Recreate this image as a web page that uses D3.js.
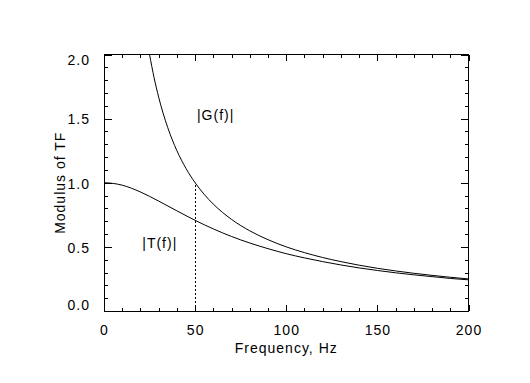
<!DOCTYPE html>
<html>
<head>
<meta charset="utf-8">
<script src="https://cdn.jsdelivr.net/npm/d3@7"></script>
<style>
  html, body { margin: 0; padding: 0; background: #fff; }
  svg text { font-family: "Liberation Sans", Arial, sans-serif; font-size: 14px; letter-spacing: 1px; fill: #000; }
</style>
</head>
<body>
<svg id="chart" width="530" height="383"></svg>
<script>
// ---- data ----
const freqT = [0, 5, 10, 20, 30, 40, 50, 60, 70, 80, 90, 100, 110, 120, 130, 140, 150, 160, 170, 180, 190, 200];
const modT  = [1.0, 0.995, 0.981, 0.928, 0.857, 0.781, 0.707, 0.640, 0.581, 0.530, 0.486, 0.447, 0.414, 0.385, 0.359, 0.336, 0.316, 0.298, 0.282, 0.268, 0.254, 0.243];
const freqG = [25, 27.5, 30, 35, 40, 45, 50, 55, 60, 65, 70, 80, 90, 100, 110, 120, 130, 140, 150, 160, 170, 180, 190, 200];
const modG  = [2.0, 1.818, 1.667, 1.429, 1.25, 1.111, 1.0, 0.909, 0.833, 0.769, 0.714, 0.625, 0.556, 0.5, 0.455, 0.417, 0.385, 0.357, 0.333, 0.3125, 0.294, 0.278, 0.263, 0.25];
const xTicks = [0, 50, 100, 150, 200];
const yTicks = [0.0, 0.5, 1.0, 1.5, 2.0];
const xMinor = [10,20,30,40,60,70,80,90,110,120,130,140,160,170,180,190];
const yMinor = [0.1,0.2,0.3,0.4,0.6,0.7,0.8,0.9,1.1,1.2,1.3,1.4,1.6,1.7,1.8,1.9];
const markerFreq = [50, 50];
const markerMod = [0, 1.0];
const labels = [
  {text: "|G(f)|", f: 51, v: 1.49},
  {text: "|T(f)|", f: 21, v: 0.49}
];
const xTitle = "Frequency, Hz";
const yTitle = "Modulus of TF";

// ---- drawing ----
const svg = d3.select("#chart");
const L = 104, R = 468.5, T = 54.5, B = 311;
const x = d3.scaleLinear().domain([0, 200]).range([L, R]);
const y = d3.scaleLinear().domain([0, 2]).range([B, T]);

const fmt = d3.format(".1f");

function styleAxis(g) {
  g.select(".domain").remove();
  g.selectAll("line").attr("stroke", "#000").attr("stroke-width", 1).attr("shape-rendering", "crispEdges");
}

// bottom
svg.append("g").attr("transform", `translate(0,${B})`)
  .call(d3.axisBottom(x).tickValues(xTicks).tickSize(-6).tickPadding(14).tickFormat(d3.format("d")))
  .call(styleAxis)
  .call(g => g.selectAll("text").attr("font-size", null).attr("font-family", null));
svg.append("g").attr("transform", `translate(0,${B})`)
  .call(d3.axisBottom(x).tickValues(xMinor).tickSize(-3).tickFormat(""))
  .call(styleAxis);
// top
svg.append("g").attr("transform", `translate(0,${T})`)
  .call(d3.axisTop(x).tickValues(xTicks).tickSize(-6).tickFormat(""))
  .call(styleAxis);
svg.append("g").attr("transform", `translate(0,${T})`)
  .call(d3.axisTop(x).tickValues(xMinor).tickSize(-3).tickFormat(""))
  .call(styleAxis);
// left
svg.append("g").attr("transform", `translate(${L},0)`)
  .call(d3.axisLeft(y).tickValues(yTicks).tickSize(-8).tickPadding(14).tickFormat(fmt))
  .call(styleAxis)
  .call(g => g.selectAll("text").attr("font-size", null).attr("font-family", null))
  .call(g => g.selectAll(".tick text").attr("dy", (d, i, n) => i === 0 ? "-0.1em" : (i === n.length - 1 ? "0.72em" : "0.38em")));
svg.append("g").attr("transform", `translate(${L},0)`)
  .call(d3.axisLeft(y).tickValues(yMinor).tickSize(-4).tickFormat(""))
  .call(styleAxis);
// right
svg.append("g").attr("transform", `translate(${R},0)`)
  .call(d3.axisRight(y).tickValues(yTicks).tickSize(-8).tickFormat(""))
  .call(styleAxis);
svg.append("g").attr("transform", `translate(${R},0)`)
  .call(d3.axisRight(y).tickValues(yMinor).tickSize(-4).tickFormat(""))
  .call(styleAxis);

// frame
svg.append("rect")
  .attr("x", x(0)).attr("y", y(2))
  .attr("width", x(200) - x(0)).attr("height", y(0) - y(2))
  .attr("fill", "none").attr("stroke", "#000").attr("stroke-width", 1)
  .attr("shape-rendering", "crispEdges");

// curves
const lineT = d3.line().x((d, i) => x(freqT[i])).y(d => y(d)).curve(d3.curveMonotoneX);
const lineG = d3.line().x((d, i) => x(freqG[i])).y(d => y(d)).curve(d3.curveMonotoneX);
svg.append("path").attr("d", lineT(modT)).attr("fill", "none").attr("stroke", "#000").attr("stroke-width", 1);
svg.append("path").attr("d", lineG(modG)).attr("fill", "none").attr("stroke", "#000").attr("stroke-width", 1);

// dotted marker
svg.append("line")
  .attr("x1", Math.round(x(markerFreq[0])) + 0.5).attr("x2", Math.round(x(markerFreq[1])) + 0.5)
  .attr("y1", y(markerMod[0])).attr("y2", y(markerMod[1]))
  .attr("stroke", "#000").attr("stroke-width", 1).attr("stroke-dasharray", "2,2");

// curve labels
svg.selectAll("text.lbl").data(labels).enter().append("text")
  .attr("class", "lbl")
  .attr("x", d => x(d.f)).attr("y", d => y(d.v))
  .text(d => d.text);

// titles
svg.append("text").attr("x", (L + R) / 2).attr("y", 353).attr("text-anchor", "middle").text(xTitle);
svg.append("text").attr("transform", `translate(65,${(T + B) / 2}) rotate(-90)`).attr("text-anchor", "middle").text(yTitle);
</script>
</body>
</html>
